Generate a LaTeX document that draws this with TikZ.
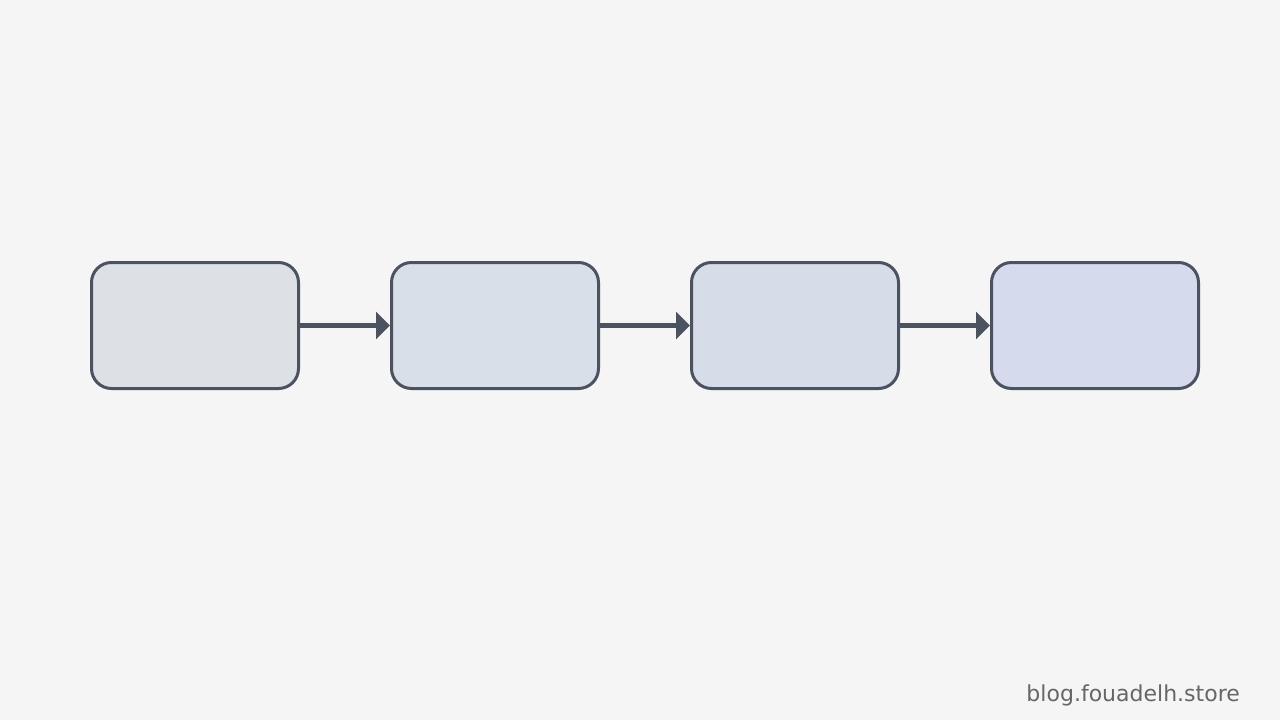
\documentclass[tikz,border=0pt]{standalone}
\usepackage{fontspec}
\newfontfamily\wmfont{DejaVu Sans}
\usetikzlibrary{arrows.meta}
\definecolor{bgc}{HTML}{F5F5F5}
\definecolor{strokec}{HTML}{4B5260}
\definecolor{fa}{HTML}{DDE1E5}
\definecolor{fb}{HTML}{D9DFE8}
\definecolor{fc}{HTML}{D7DCE9}
\definecolor{fd}{HTML}{D5DAEC}
\definecolor{wmc}{HTML}{666666}
\tikzset{
  stagebox/.style={draw=strokec, line width=3pt, rounded corners=20pt,
    minimum width=207pt, minimum height=126pt, inner sep=0pt},
  flowarrow/.style={draw=strokec, line width=5pt,
    -{Triangle[length=14pt,width=27pt]}}
}
\begin{document}
\begin{tikzpicture}[x=1pt,y=-1pt]
\fill[bgc] (0,0) rectangle (1280,720);
\useasboundingbox (0,0) rectangle (1280,720);
\node[stagebox, fill=fa] (b1) at (195,325.5) {};
\node[stagebox, fill=fb] (b2) at (495,325.5) {};
\node[stagebox, fill=fc] (b3) at (795,325.5) {};
\node[stagebox, fill=fd] (b4) at (1095,325.5) {};
\draw[flowarrow] (b1.east) -- (b2.west);
\draw[flowarrow] (b2.east) -- (b3.west);
\draw[flowarrow] (b3.east) -- (b4.west);
\node[anchor=base east, inner sep=0pt, text=wmc, font=\wmfont\fontsize{22pt}{26pt}\selectfont] (wm) at (1240,701) {blog.fouadelh.store};
\end{tikzpicture}
\end{document}
